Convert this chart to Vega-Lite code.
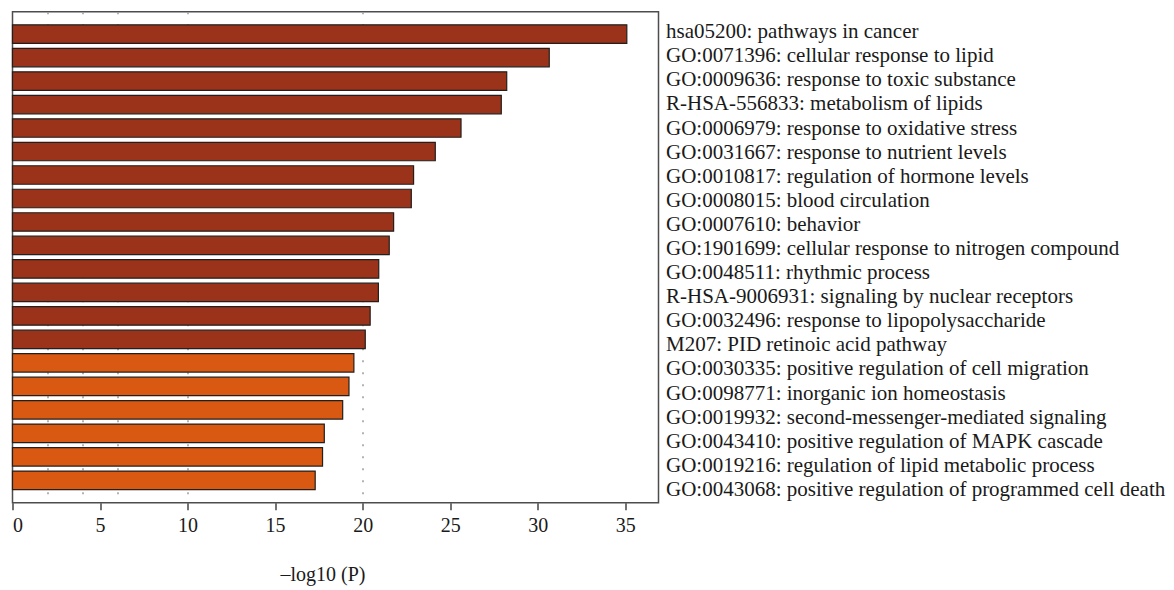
{
  "$schema": "https://vega.github.io/schema/vega-lite/v6.json",
  "width": 646,
  "height": 491,
  "autosize": "none",
  "padding": {"left": 12.5, "top": 11.7, "right": 515.5, "bottom": 87.3},
  "config": {
    "view": {"stroke": "#4d4d4d", "strokeWidth": 1.5},
    "font": "Liberation Serif"
  },
  "data": {
    "values": [
      {"term": "hsa05200: pathways in cancer", "value": 35.09, "group": "top"},
      {"term": "GO:0071396: cellular response to lipid", "value": 30.66, "group": "top"},
      {"term": "GO:0009636: response to toxic substance", "value": 28.23, "group": "top"},
      {"term": "R-HSA-556833: metabolism of lipids", "value": 27.92, "group": "top"},
      {"term": "GO:0006979: response to oxidative stress", "value": 25.62, "group": "top"},
      {"term": "GO:0031667: response to nutrient levels", "value": 24.15, "group": "top"},
      {"term": "GO:0010817: regulation of hormone levels", "value": 22.91, "group": "top"},
      {"term": "GO:0008015: blood circulation", "value": 22.78, "group": "top"},
      {"term": "GO:0007610: behavior", "value": 21.77, "group": "top"},
      {"term": "GO:1901699: cellular response to nitrogen compound", "value": 21.52, "group": "top"},
      {"term": "GO:0048511: rhythmic process", "value": 20.92, "group": "top"},
      {"term": "R-HSA-9006931: signaling by nuclear receptors", "value": 20.9, "group": "top"},
      {"term": "GO:0032496: response to lipopolysaccharide", "value": 20.43, "group": "top"},
      {"term": "M207: PID retinoic acid pathway", "value": 20.15, "group": "top"},
      {"term": "GO:0030335: positive regulation of cell migration", "value": 19.5, "group": "rest"},
      {"term": "GO:0098771: inorganic ion homeostasis", "value": 19.22, "group": "rest"},
      {"term": "GO:0019932: second-messenger-mediated signaling", "value": 18.86, "group": "rest"},
      {"term": "GO:0043410: positive regulation of MAPK cascade", "value": 17.81, "group": "rest"},
      {"term": "GO:0019216: regulation of lipid metabolic process", "value": 17.71, "group": "rest"},
      {"term": "GO:0043068: positive regulation of programmed cell death", "value": 17.29, "group": "rest"}
    ]
  },
  "layer": [
    {
      "mark": {"type": "point", "opacity": 0},
      "encoding": {
        "y": {
          "field": "term", "type": "nominal", "sort": null,
          "scale": {"type": "point", "padding": 0.69, "align": 0.6},
          "axis": {"orient": "right", "domain": false, "ticks": false, "labelAlign": "left", "labelPadding": 7, "labelFontSize": 21, "labelColor": "#1a1a1a", "title": null, "labelLimit": 0}
        },
        "x": {
          "field": "value", "type": "quantitative",
          "scale": {"domain": [0, 36.9], "nice": false},
          "axis": {"orient": "top", "values": [2, 4, 6, 10, 20], "grid": true, "gridDash": [2, 10], "gridColor": "#9a9a9a", "gridWidth": 1.5, "labels": false, "ticks": false, "domain": false, "title": null}
        }
      }
    },
    {
      "mark": {"type": "bar", "stroke": "#231f1c", "strokeWidth": 1.2},
      "encoding": {
        "y": {
          "field": "term", "type": "nominal", "sort": null,
          "scale": {"paddingInner": 0.213, "paddingOuter": 0.56},
          "axis": null
        },
        "x": {
          "field": "value", "type": "quantitative",
          "scale": {"domain": [0, 36.9], "nice": false},
          "axis": {"orient": "bottom", "values": [0, 5, 10, 15, 20, 25, 30, 35], "grid": false, "domain": false, "tickColor": "#444", "tickSize": 7, "tickWidth": 1.5, "labelFontSize": 20, "labelColor": "#1a1a1a", "labelPadding": 6, "title": "–log10 (P)", "titleFontSize": 20, "titleFontWeight": "normal", "titleColor": "#1a1a1a", "titlePadding": 29, "titleX": 310}
        },
        "color": {
          "field": "group", "type": "nominal",
          "scale": {"domain": ["top", "rest"], "range": ["#9A331A", "#D95812"]},
          "legend": null
        }
      }
    }
  ],
  "resolve": {"scale": {"y": "independent"}}
}
